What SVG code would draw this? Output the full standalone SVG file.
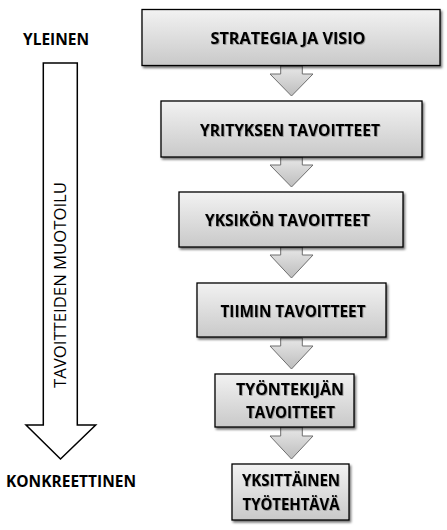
<svg xmlns="http://www.w3.org/2000/svg" width="447" height="530" viewBox="0 0 447 530">
<defs>
<linearGradient id="boxg" x1="0" y1="0" x2="0" y2="1">
<stop offset="0" stop-color="#f2f2f2"/>
<stop offset="1" stop-color="#c9c9c9"/>
</linearGradient>
<linearGradient id="arrg" x1="0" y1="0" x2="0" y2="1">
<stop offset="0" stop-color="#e8e8e8"/>
<stop offset="1" stop-color="#bdbdbd"/>
</linearGradient>
<filter id="sh" x="-10%" y="-10%" width="125%" height="140%">
<feDropShadow dx="1.5" dy="2" stdDeviation="1.3" flood-color="#000" flood-opacity="0.55"/>
</filter>
<filter id="tsh" x="-5%" y="-20%" width="110%" height="150%">
<feDropShadow dx="0.8" dy="0.8" stdDeviation="0.4" flood-color="#000" flood-opacity="0.35"/>
</filter>
</defs>
<style>
.box{fill:url(#boxg);stroke:#000;stroke-width:1.3;filter:url(#sh)}
.arr{fill:url(#arrg);stroke:#6e6e6e;stroke-width:1}
.t{font-family:"Open Sans","Liberation Sans",sans-serif;font-weight:bold;font-size:16px;fill:#000;text-anchor:middle;filter:url(#tsh)}
.side{font-family:"Open Sans","Liberation Sans",sans-serif;font-weight:bold;font-size:16px;fill:#000;text-anchor:middle}
.vt{font-family:"Open Sans","Liberation Sans",sans-serif;font-size:15.5px;fill:#000;text-anchor:middle}
</style>
<rect width="447" height="530" fill="#fff"/>

<g id="side">
<text class="side" x="56" y="45" textLength="66" lengthAdjust="spacingAndGlyphs">YLEINEN</text>
<path d="M43.3,63 H77.3 V425 H95.7 L60.5,459 L26,425 H43.3 Z" fill="#fff" stroke="#000" stroke-width="1.5"/>
<text class="vt" transform="translate(66,285) rotate(-90)" textLength="206" lengthAdjust="spacingAndGlyphs">TAVOITTEIDEN MUOTOILU</text>
<text class="side" x="71" y="487" textLength="130" lengthAdjust="spacingAndGlyphs">KONKREETTINEN</text>
</g>

<g id="connectors">
<path class="arr" d="M280.7,66 H302.3 V74 H313 L291.5,96 L270,74 H280.7 Z"/>
<path class="arr" d="M280.7,157 H302.3 V165 H313 L291.5,187 L270,165 H280.7 Z"/>
<path class="arr" d="M280.7,247 H302.3 V255 H313 L291.5,278 L270,255 H280.7 Z"/>
<path class="arr" d="M280.7,338 H302.3 V346 H313 L291.5,369 L270,346 H280.7 Z"/>
<path class="arr" d="M280.7,427 H302.3 V436 H313 L291.5,459 L270,436 H280.7 Z"/>
</g>

<g id="n1">
<rect class="box" x="142" y="9.5" width="298" height="56"/>
<text class="t" x="288" y="44" textLength="155" lengthAdjust="spacingAndGlyphs">STRATEGIA JA VISIO</text>
</g>
<g id="n2">
<rect class="box" x="161" y="101" width="261" height="56"/>
<text class="t" x="290" y="135.5" textLength="180" lengthAdjust="spacingAndGlyphs">YRITYKSEN TAVOITTEET</text>
</g>
<g id="n3">
<rect class="box" x="179" y="192" width="224" height="55"/>
<text class="t" x="287.5" y="225.5" textLength="165" lengthAdjust="spacingAndGlyphs">YKSIKÖN TAVOITTEET</text>
</g>
<g id="n4">
<rect class="box" x="197" y="283" width="189" height="54"/>
<text class="t" x="293" y="317" textLength="145" lengthAdjust="spacingAndGlyphs">TIIMIN TAVOITTEET</text>
</g>
<g id="n5">
<rect class="box" x="215" y="374" width="139" height="53"/>
<text class="t" x="290" y="394.5" textLength="108" lengthAdjust="spacingAndGlyphs">TYÖNTEKIJÄN</text>
<text class="t" x="290.5" y="417.5" textLength="89" lengthAdjust="spacingAndGlyphs">TAVOITTEET</text>
</g>
<g id="n6">
<rect class="box" x="232" y="464" width="117" height="56"/>
<text class="t" x="291" y="485.5" textLength="98" lengthAdjust="spacingAndGlyphs">YKSITTÄINEN</text>
<text class="t" x="291" y="509.5" textLength="97" lengthAdjust="spacingAndGlyphs">TYÖTEHTÄVÄ</text>
</g>
</svg>
